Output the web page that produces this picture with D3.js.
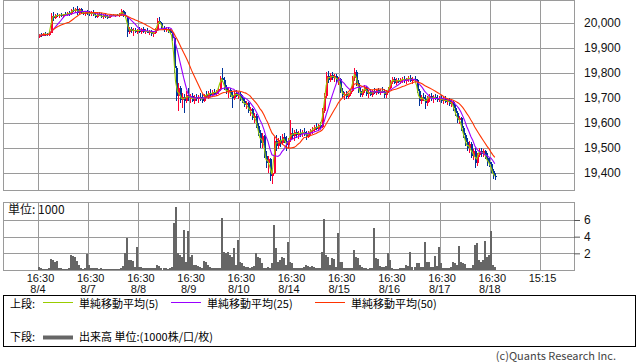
<!DOCTYPE html>
<html>
<head>
<meta charset="utf-8">
<script src="https://cdn.jsdelivr.net/npm/d3@7/dist/d3.min.js"></script>
<style>
  body { margin: 0; background: #fff; }
  svg { display: block; font-family: "Noto Sans CJK JP", "Noto Sans", sans-serif; }
  .num { font-family: "Liberation Sans", Arial, sans-serif; font-size: 12px; fill: #111; }
  .tnum { font-family: "Liberation Sans", Arial, sans-serif; font-size: 11px; fill: #111; }
</style>
</head>
<body>
<div id="chart"></div>
<script>
// セッション（16:30 開始）ごとのラベル
const sessionDates = ["8/4", "8/7", "8/8", "8/9", "8/10", "8/14", "8/15", "8/16", "8/17", "8/18"];
const sessionTimes = ["16:30", "16:30", "16:30", "16:30", "16:30", "16:30", "16:30", "16:30", "16:30", "16:30", "15:15"];
const priceTicks = [19400, 19500, 19600, 19700, 19800, 19900, 20000];
const volumeTicks = [2, 4, 6];
const maPeriods = [5, 25, 50];
const maColors = ["#99cc00", "#9900ff", "#ff3300"];

// 1セッション25本に間引いた足（元チャートは15分足 = 78本/セッション）
const barsPerSession = 25;
const origBarsPerSession = 78;

const opens = [
  19945,19952,19950,19958,19955,19952,19962,20030,20020,20032,20028,20034,20030,20036,20032,20040,20035,20052,20048,20058,20040,20055,20042,20038,20044,
  20040,20036,20044,20034,20026,20036,20030,20024,20032,20026,20022,20030,20032,20030,20032,20030,20036,20048,20030,20026,19965,19978,19968,19972,19966,
  19974,19966,19976,19964,19970,19962,19968,19956,19962,19976,20010,20000,19982,19972,19978,19968,19962,19940,19820,19710,19740,19692,19704,19690,19712,
  19700,19708,19690,19704,19696,19706,19700,19690,19712,19706,19722,19712,19726,19718,19728,19736,19780,19772,19740,19724,19734,19712,19700,19720,19710,
  19716,19700,19688,19672,19680,19648,19656,19620,19630,19590,19560,19520,19548,19470,19440,19456,19390,19400,19530,19510,19532,19520,19544,19528,19512,
  19532,19560,19548,19566,19552,19562,19556,19566,19558,19546,19562,19568,19574,19584,19578,19592,19586,19650,19710,19790,19772,19794,19780,19788,19770,
  19776,19730,19712,19716,19706,19718,19728,19780,19806,19760,19730,19712,19730,19744,19718,19724,19714,19728,19720,19732,19722,19730,19726,19712,19728,
  19740,19766,19776,19762,19774,19766,19772,19778,19768,19776,19782,19770,19778,19772,19730,19690,19704,19698,19680,19700,19708,19696,19706,19700,19694,
  19702,19690,19696,19686,19694,19678,19686,19660,19640,19612,19620,19580,19552,19524,19500,19516,19470,19490,19440,19472,19490,19476,19488,19462,19446,
  19438,19410,19390
];
const highs = [
  19958,19960,19962,19964,19960,19966,20040,20045,20036,20040,20036,20042,20038,20044,20046,20050,20058,20066,20062,20070,20060,20060,20050,20048,20052,
  20050,20048,20052,20042,20040,20046,20040,20036,20040,20034,20034,20036,20036,20034,20036,20040,20056,20054,20044,20030,19985,19986,19980,19982,19978,
  19984,19980,19984,19976,19980,19972,19974,19966,19980,20020,20024,20006,19990,19984,19984,19976,19970,19946,19830,19760,19748,19720,19716,19730,19740,
  19716,19720,19712,19716,19712,19722,19716,19718,19730,19728,19736,19732,19738,19734,19744,19790,19822,19784,19752,19740,19742,19726,19728,19732,19724,
  19724,19712,19700,19690,19686,19664,19662,19640,19636,19600,19572,19560,19552,19490,19470,19460,19420,19544,19552,19540,19548,19556,19560,19548,19540,
  19612,19580,19572,19578,19570,19576,19572,19580,19570,19568,19576,19584,19592,19600,19598,19604,19660,19720,19806,19808,19800,19804,19796,19798,19784,
  19780,19740,19724,19728,19722,19736,19790,19822,19812,19772,19746,19738,19752,19750,19732,19736,19734,19740,19738,19742,19736,19744,19736,19732,19746,
  19772,19786,19784,19780,19782,19780,19786,19788,19782,19790,19792,19786,19790,19778,19736,19712,19720,19712,19708,19716,19720,19712,19718,19712,19710,
  19712,19704,19708,19700,19702,19692,19690,19672,19648,19630,19624,19590,19560,19540,19530,19524,19496,19500,19480,19500,19500,19496,19494,19480,19460,
  19446,19418,19400
];
const lows = [
  19940,19946,19948,19950,19948,19950,19960,20010,20015,20024,20020,20026,20022,20028,20028,20030,20032,20044,20040,20034,20036,20036,20032,20030,20034,
  20030,20028,20030,20022,20020,20028,20020,20018,20022,20018,20020,20026,20028,20026,20028,20026,20030,20024,20020,19945,19955,19960,19950,19962,19958,
  19960,19958,19962,19956,19960,19952,19950,19944,19956,19970,19996,19976,19966,19964,19962,19956,19930,19800,19690,19650,19680,19660,19640,19680,19688,
  19680,19684,19676,19688,19682,19690,19680,19684,19700,19696,19706,19704,19712,19708,19716,19730,19764,19732,19716,19700,19704,19662,19692,19704,19696,
  19690,19680,19664,19656,19640,19628,19612,19600,19580,19550,19500,19500,19460,19420,19400,19370,19356,19396,19490,19496,19504,19512,19520,19488,19500,
  19524,19536,19530,19540,19538,19546,19544,19550,19534,19540,19552,19556,19566,19572,19570,19576,19580,19640,19700,19760,19764,19772,19764,19760,19754,
  19720,19700,19692,19698,19696,19710,19724,19770,19750,19720,19706,19704,19722,19710,19700,19708,19706,19716,19712,19716,19712,19720,19700,19702,19720,
  19736,19758,19756,19752,19760,19756,19762,19760,19756,19766,19764,19758,19766,19720,19670,19676,19690,19656,19670,19686,19690,19680,19692,19686,19684,
  19682,19676,19680,19672,19668,19664,19650,19630,19600,19596,19570,19540,19510,19490,19480,19460,19452,19420,19430,19464,19466,19464,19456,19430,19424,
  19400,19376,19372
];
const closes = [
  19952,19950,19958,19955,19952,19962,20030,20020,20032,20028,20034,20030,20036,20032,20040,20035,20052,20048,20058,20040,20055,20042,20038,20044,20040,
  20036,20044,20034,20026,20036,20030,20024,20032,20026,20022,20030,20032,20030,20032,20030,20036,20048,20030,20026,19965,19978,19968,19972,19966,19974,
  19966,19976,19964,19970,19962,19968,19956,19962,19976,20010,20000,19982,19972,19978,19968,19962,19940,19820,19710,19740,19692,19704,19690,19712,19700,
  19708,19690,19704,19696,19706,19700,19690,19712,19706,19722,19712,19726,19718,19728,19736,19780,19772,19740,19724,19734,19712,19700,19720,19710,19716,
  19700,19688,19672,19680,19648,19656,19620,19630,19590,19560,19520,19548,19470,19440,19456,19390,19400,19530,19510,19532,19520,19544,19528,19512,19532,
  19560,19548,19566,19552,19562,19556,19566,19558,19546,19562,19568,19574,19584,19578,19592,19586,19650,19710,19790,19772,19794,19780,19788,19770,19776,
  19730,19712,19716,19706,19718,19728,19780,19806,19760,19730,19712,19730,19744,19718,19724,19714,19728,19720,19732,19722,19730,19726,19712,19728,19740,
  19766,19776,19762,19774,19766,19772,19778,19768,19776,19782,19770,19778,19772,19730,19690,19704,19698,19680,19700,19708,19696,19706,19700,19694,19702,
  19690,19696,19686,19694,19678,19686,19660,19640,19612,19620,19580,19552,19524,19500,19516,19470,19490,19440,19472,19490,19476,19488,19462,19446,19438,
  19410,19390,19384
];
// 出来高（単位: 1000）
const volumes = [
  0.4,0.3,0.1,0.1,0.1,0.2,1.3,1.2,1.0,1.1,0.3,0.2,0.1,0.1,0.1,0.2,1.8,1.7,1.6,1.1,0.6,0.2,0.1,0.2,1.9,
  0.6,0.3,0.2,0.2,0.2,0.1,0.2,0.1,0.1,0.1,0.1,0.1,0.1,0.1,0.1,0.1,0.3,0.5,2.0,3.8,1.2,1.2,1.1,0.4,2.8,
  0.4,0.4,0.3,0.3,0.2,0.3,0.3,0.2,0.3,0.6,0.5,0.2,0.2,0.2,0.1,0.2,0.4,5.6,7.6,2.0,1.8,1.6,4.8,1.0,4.7,
  1.6,1.8,0.6,0.6,0.5,0.4,0.3,1.1,1.0,0.6,0.4,0.3,0.3,0.2,0.2,0.3,6.2,2.2,2.0,2.2,1.8,1.6,2.6,0.6,3.6,
  1.0,0.8,0.5,0.4,0.4,0.3,0.4,0.5,2.0,1.6,1.4,0.8,0.3,0.3,0.4,0.3,0.8,5.4,2.6,1.0,1.2,1.6,1.4,0.6,3.4,
  1.0,0.8,0.3,0.2,0.2,0.2,0.2,0.4,0.6,0.5,0.4,0.5,0.4,0.3,0.2,0.3,2.2,6.1,1.8,1.6,0.6,1.4,1.3,0.4,4.4,
  1.0,1.0,0.3,0.2,0.2,0.2,0.3,2.4,1.6,1.5,0.6,0.4,0.2,0.2,0.1,0.2,0.3,5.0,1.4,1.3,0.5,0.4,0.4,0.5,2.0,
  1.2,0.2,0.1,0.1,0.1,0.2,0.2,0.3,0.6,0.5,2.2,0.4,0.4,0.8,0.8,0.4,0.4,3.4,1.0,1.0,0.4,0.4,1.7,0.5,2.8,
  0.8,0.3,0.3,0.2,0.3,0.4,1.0,0.8,0.6,2.9,1.0,0.8,0.7,0.2,0.2,0.3,0.6,3.0,3.2,1.2,1.0,1.2,3.5,1.6,1.8,
  4.7,0.6,0.4
];

const width = 638, height = 362;
const plotL = 3, plotR = 574, plotT = 0, plotB = 190;
const volT = 202, volB = 270;

const svg = d3.select("#chart").append("svg")
  .attr("width", width)
  .attr("height", height);

svg.append("rect").attr("width", width).attr("height", height).attr("fill", "#fff");

const x = d3.scaleLinear().domain([0, 10]).range([38, 540]);
const y = d3.scaleLinear().domain([19400, 20000]).range([173, 23]);
const yv = d3.scaleLinear().domain([0, 6]).range([volB, 220]);

const bars = closes.map((c, i) => ({
  i: i,
  pos: Math.floor(i / barsPerSession) + ((i % barsPerSession) + 0.5) / barsPerSession,
  o: opens[i], h: highs[i], l: lows[i], c: c, v: volumes[i]
}));

const px = v => Math.round(v) + 0.5;
const grid = "#9a9a9a";

// グリッド（上段・下段）
[[plotT, plotB], [volT, volB]].forEach(([t, b]) => {
  svg.append("g").selectAll("line")
    .data(d3.range(11))
    .enter().append("line")
    .attr("x1", d => px(x(d))).attr("x2", d => px(x(d)))
    .attr("y1", t).attr("y2", b)
    .attr("stroke", grid);
});
svg.append("g").selectAll("line")
  .data(priceTicks)
  .enter().append("line")
  .attr("x1", plotL).attr("x2", plotR)
  .attr("y1", d => px(y(d))).attr("y2", d => px(y(d)))
  .attr("stroke", grid);
svg.append("g").selectAll("line")
  .data(volumeTicks)
  .enter().append("line")
  .attr("x1", plotL).attr("x2", plotR)
  .attr("y1", d => px(yv(d))).attr("y2", d => px(yv(d)))
  .attr("stroke", grid);

// ローソク足
const candles = svg.append("g").attr("shape-rendering", "crispEdges");
candles.selectAll(".wick")
  .data(bars)
  .enter().append("line")
  .attr("class", "wick")
  .attr("x1", d => Math.round(x(d.pos)) + 0.5)
  .attr("x2", d => Math.round(x(d.pos)) + 0.5)
  .attr("y1", d => y(d.h))
  .attr("y2", d => y(d.l))
  .attr("stroke", d => d.c >= d.o ? "#ff0033" : "#003399");
candles.selectAll(".body")
  .data(bars)
  .enter().append("rect")
  .attr("class", "body")
  .attr("x", d => Math.round(x(d.pos)) - 0.5)
  .attr("y", d => y(Math.max(d.o, d.c)))
  .attr("width", 2)
  .attr("height", d => Math.max(1, Math.abs(y(d.o) - y(d.c))))
  .attr("fill", d => d.c >= d.o ? "#ff0033" : "#003399");

// 単純移動平均（期間は間引き後の本数に換算）
maPeriods.forEach((p, k) => {
  const n = Math.max(1, Math.round(p * barsPerSession / origBarsPerSession));
  const ma = bars.map((d, i) => ({
    pos: d.pos,
    v: d3.mean(closes.slice(Math.max(0, i - n + 1), i + 1))
  }));
  svg.append("path")
    .datum(ma)
    .attr("fill", "none")
    .attr("stroke", maColors[k])
    .attr("stroke-width", 1.1)
    .attr("d", d3.line().x(d => x(d.pos)).y(d => y(d.v)));
});

// 出来高
svg.append("g").attr("shape-rendering", "crispEdges")
  .selectAll("rect")
  .data(bars)
  .enter().append("rect")
  .attr("x", d => Math.round(x(d.pos)) - 1)
  .attr("y", d => yv(d.v))
  .attr("width", 2)
  .attr("height", d => volB - yv(d.v))
  .attr("fill", "#666");

// 枠
svg.append("rect").attr("x", plotL + 0.5).attr("y", plotT + 0.5)
  .attr("width", plotR - plotL).attr("height", plotB - plotT)
  .attr("fill", "none").attr("stroke", grid);
svg.append("rect").attr("x", plotL + 0.5).attr("y", volT + 0.5)
  .attr("width", plotR - plotL).attr("height", volB - volT)
  .attr("fill", "none").attr("stroke", grid);

// 価格軸
const yAxis = svg.append("g")
  .attr("transform", `translate(${plotR},0)`)
  .call(d3.axisRight(y).tickValues(priceTicks).tickSize(0).tickPadding(10).tickFormat(d3.format(",")));
yAxis.select(".domain").remove();
yAxis.selectAll("text").attr("class", "num").attr("font-size", null).attr("font-family", null);

// 出来高軸
const vAxis = svg.append("g")
  .attr("transform", `translate(${plotR},0)`)
  .call(d3.axisRight(yv).tickValues(volumeTicks).tickSize(6).tickPadding(4).tickFormat(d3.format("d")));
vAxis.select(".domain").remove();
vAxis.selectAll("line").attr("stroke", "#555");
vAxis.selectAll("text").attr("class", "num").attr("font-size", null).attr("font-family", null);

svg.append("text")
  .attr("x", 8).attr("y", 214)
  .style("font-size", "12px")
  .attr("fill", "#111")
  .text("単位: 1000");

// 時間軸（時刻と日付）
const tAxis = svg.append("g")
  .attr("transform", `translate(0,${volB})`)
  .call(d3.axisBottom(x).tickValues(d3.range(11)).tickSize(0).tickFormat(""));
tAxis.select(".domain").remove();
tAxis.selectAll(".tick text").each(function(d) {
  const t = d3.select(this).attr("class", "tnum").attr("font-size", null).attr("font-family", null)
    .attr("y", null).attr("dy", null);
  t.append("tspan").attr("x", 2).attr("y", 11.5).text(sessionTimes[d]);
  if (sessionDates[d]) t.append("tspan").attr("x", -0.5).attr("y", 23).text(sessionDates[d]);
});

// 凡例
const legend = svg.append("g");
legend.append("rect")
  .attr("x", 3.5).attr("y", 295.5)
  .attr("width", 632).attr("height", 51)
  .attr("fill", "none").attr("stroke", "#000");

legend.append("text").attr("x", 10).attr("y", 307.5)
  .style("font-size", "11px").text("上段:");
const legendItems = [
  { x: 43, label: "単純移動平均(" + maPeriods[0] + ")" },
  { x: 171, label: "単純移動平均(" + maPeriods[1] + ")" },
  { x: 315, label: "単純移動平均(" + maPeriods[2] + ")" }
];
legendItems.forEach((it, k) => {
  legend.append("line")
    .attr("x1", it.x).attr("x2", it.x + 30)
    .attr("y1", 302.5).attr("y2", 302.5)
    .attr("stroke", maColors[k]);
  legend.append("text")
    .attr("x", it.x + 36).attr("y", 307.5)
    .style("font-size", "11px")
    .text(it.label);
});

legend.append("text").attr("x", 10).attr("y", 341)
  .style("font-size", "11px").text("下段:");
legend.append("line")
  .attr("x1", 43).attr("x2", 73)
  .attr("y1", 337.5).attr("y2", 337.5)
  .attr("stroke", "#666").attr("stroke-width", 4);
legend.append("text")
  .attr("x", 79).attr("y", 341)
  .style("font-size", "11px")
  .text("出来高 単位:(1000株/口/枚)");

svg.append("text")
  .attr("x", 616).attr("y", 360)
  .attr("text-anchor", "end")
  .style("font-size", "11px")
  .attr("fill", "#444")
  .text("(c)Quants Research Inc.");
</script>
</body>
</html>
